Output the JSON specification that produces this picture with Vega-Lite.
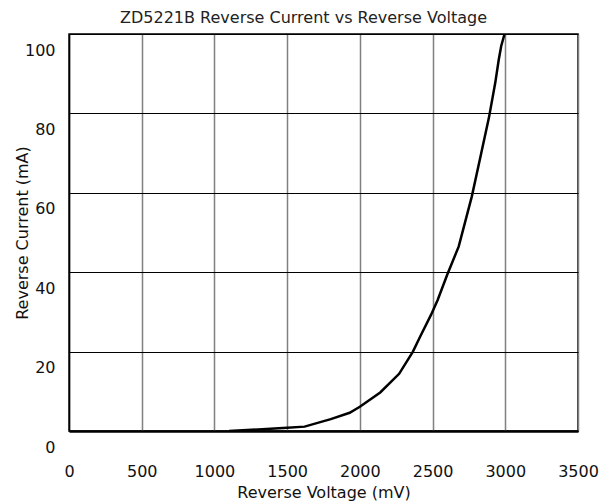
{
  "$schema": "https://vega.github.io/schema/vega-lite/v6.json",
  "width": 509,
  "height": 397,
  "autosize": {"type": "none"},
  "padding": {"left": 69, "top": 34, "right": 31, "bottom": 71},
  "background": "white",
  "title": {
    "text": "ZD5221B Reverse Current vs Reverse Voltage",
    "font": "DejaVu Sans",
    "fontSize": 16,
    "fontWeight": "normal",
    "color": "#222222",
    "anchor": "middle",
    "dx": -20,
    "offset": 8
  },
  "config": {
    "view": {"stroke": "black", "strokeWidth": 1.5},
    "axis": {
      "labelFont": "DejaVu Sans",
      "titleFont": "DejaVu Sans",
      "labelFontSize": 16,
      "titleFontSize": 16,
      "titleFontWeight": "normal",
      "labelColor": "#111111",
      "titleColor": "#111111",
      "ticks": false
    }
  },
  "data": {
    "values": [
      {"v": 1100, "i": 0},
      {"v": 1300, "i": 0.4},
      {"v": 1500, "i": 0.8},
      {"v": 1620, "i": 1.1},
      {"v": 1800, "i": 3.0},
      {"v": 1930, "i": 4.6},
      {"v": 2000, "i": 6.1},
      {"v": 2140, "i": 9.7},
      {"v": 2270, "i": 14.4},
      {"v": 2365, "i": 20},
      {"v": 2415, "i": 23.8},
      {"v": 2490, "i": 29.3},
      {"v": 2535, "i": 33},
      {"v": 2600, "i": 39.3},
      {"v": 2680, "i": 46.5},
      {"v": 2770, "i": 59.1},
      {"v": 2830, "i": 69.2},
      {"v": 2888, "i": 79},
      {"v": 2931, "i": 87.7},
      {"v": 2955, "i": 93.5},
      {"v": 2972, "i": 97},
      {"v": 2995, "i": 100}
    ]
  },
  "mark": {"type": "line", "color": "black", "strokeWidth": 2.5, "clip": true},
  "encoding": {
    "x": {
      "field": "v",
      "type": "quantitative",
      "title": "Reverse Voltage (mV)",
      "scale": {"domain": [0, 3500], "nice": false},
      "axis": {
        "values": [0, 500, 1000, 1500, 2000, 2500, 3000, 3500],
        "format": "d",
        "grid": true,
        "gridColor": "#808080",
        "gridWidth": 1.5,
        "gridOpacity": 1,
        "domainColor": "black",
        "domainWidth": 2.5,
        "labelPadding": 32,
        "labelFlush": false,
        "titlePadding": 5
      }
    },
    "y": {
      "field": "i",
      "type": "quantitative",
      "title": "Reverse Current (mA)",
      "scale": {"domain": [0, 100], "nice": false},
      "axis": {
        "values": [0, 20, 40, 60, 80, 100],
        "format": "d",
        "grid": true,
        "gridColor": "black",
        "gridWidth": 1,
        "gridOpacity": 1,
        "domainColor": "black",
        "domainWidth": 1.5,
        "labelPadding": 14,
        "labelOffset": 16,
        "labelFlush": false,
        "titlePadding": -6
      }
    }
  }
}
